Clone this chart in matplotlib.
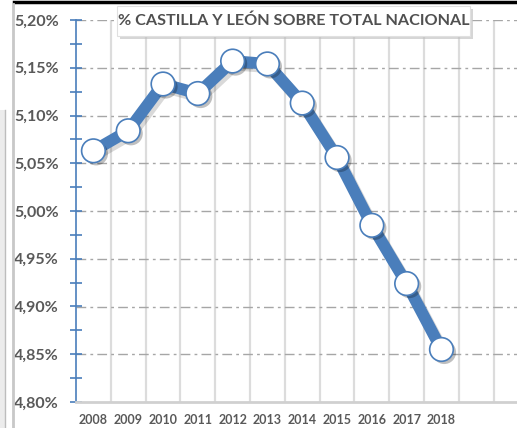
import matplotlib
matplotlib.use("Agg")
import matplotlib.pyplot as plt
import matplotlib.patheffects as pe
from matplotlib.patches import Rectangle
from matplotlib.lines import Line2D
from matplotlib.ticker import MultipleLocator, FuncFormatter

# ---------------- data ----------------
years = ["2008", "2009", "2010", "2011", "2012", "2013",
         "2014", "2015", "2016", "2017", "2018"]
share = [5.063, 5.084, 5.133, 5.123, 5.157, 5.154,
         5.113, 5.056, 4.985, 4.924, 4.855]
title = "% CASTILLA Y LEÓN SOBRE TOTAL NACIONAL"

blue = "#4A7EBB"
grey_txt = "#595959"

plt.rcParams["font.family"] = ["Lato", "DejaVu Sans"]

W, H = 517, 428
fig = plt.figure(figsize=(W / 100, H / 100), dpi=100)
fig.patch.set_facecolor("white")


def px(x0, y0, w, h):
    # pixel box (top-left origin) -> figure fraction
    return [x0 / W, 1 - (y0 + h) / H, w / W, h / H]


# frame decorations around the chart
fig.add_artist(Line2D([14 / W, 1], [1 - 1.5 / H] * 2, color="black", lw=2.5))
fig.add_artist(Line2D([13 / W] * 2, [0, 1 - 4 / H], color="#c8c8c8", lw=2))
fig.add_artist(Rectangle((0, 0), 5 / W, 1 - 110 / H, transform=fig.transFigure,
                         facecolor="#ececec", edgecolor="none"))
fig.add_artist(Line2D([4.5 / W] * 2, [0, 1 - 110 / H], color="#bdbdbd", lw=1))

ax = fig.add_axes(px(76, 20, 441, 382))
x = list(range(len(years)))

ax.set_xlim(-0.5, 12.17)
ax.set_ylim(4.80, 5.20)

# vertical category separators
for b in range(13):
    ax.axvline(b + 0.5, color="#dcdcdc", lw=1.6, zorder=0)

# horizontal dash-dot gridlines
for v in [4.85, 4.90, 4.95, 5.00, 5.05, 5.10, 5.15, 5.20]:
    ax.axhline(v, color="#a6a6a6", lw=1, dashes=(7, 3, 2, 3), zorder=1)

# line with soft drop shadow
ax.plot(x, share, color=blue, lw=8.5, solid_capstyle="round", zorder=3,
        path_effects=[pe.SimpleLineShadow(offset=(2, -2.5), alpha=0.15, shadow_color="black"),
                      pe.Normal()])
ax.plot(x, share, ls="none", marker="o", ms=17, mfc="white", mec=blue, mew=1.2,
        zorder=4,
        path_effects=[pe.SimplePatchShadow(offset=(2, -2), alpha=0.25, shadow_rgbFace="black"),
                      pe.Normal()])

ax.set_xticks(x)
ax.set_xticklabels(years)

ax.yaxis.set_major_locator(MultipleLocator(0.05))
ax.yaxis.set_minor_locator(MultipleLocator(0.025))
ax.yaxis.set_major_formatter(FuncFormatter(lambda v, p: f"{v:.2f}%".replace(".", ",")))

for s in ["top", "right"]:
    ax.spines[s].set_visible(False)
ax.spines["left"].set_color(blue)
ax.spines["left"].set_linewidth(1.2)
ax.spines["bottom"].set_color("#d0d0d0")
ax.spines["bottom"].set_linewidth(2)

ax.tick_params(axis="y", which="both", direction="inout", color=blue, width=1.2)
ax.tick_params(axis="y", which="major", length=9, pad=8)
ax.tick_params(axis="y", which="minor", length=9)
ax.tick_params(axis="x", length=0, pad=9)
for t in ax.get_yticklabels():
    t.set_fontsize(11.5)
    t.set_fontweight("bold")
    t.set_color(grey_txt)
for t in ax.get_xticklabels():
    t.set_fontsize(9)
    t.set_fontweight("bold")
    t.set_color(grey_txt)

# title box with shadow
fig.add_artist(Rectangle(px(120, 9, 353, 30)[:2], 353 / W, 30 / H,
                         transform=fig.transFigure, facecolor="#bbbbbb",
                         edgecolor="none", alpha=0.6, zorder=8))
fig.add_artist(Rectangle(px(117, 6, 353, 30)[:2], 353 / W, 30 / H,
                         transform=fig.transFigure, facecolor="white",
                         edgecolor="#e0e0e0", lw=0.8, zorder=9))
fig.text(293.5 / W, 1 - 21 / H, title, ha="center", va="center",
         fontsize=11.6, fontweight="bold", color="#505050", zorder=10)

fig.savefig("out.png", dpi=100)
